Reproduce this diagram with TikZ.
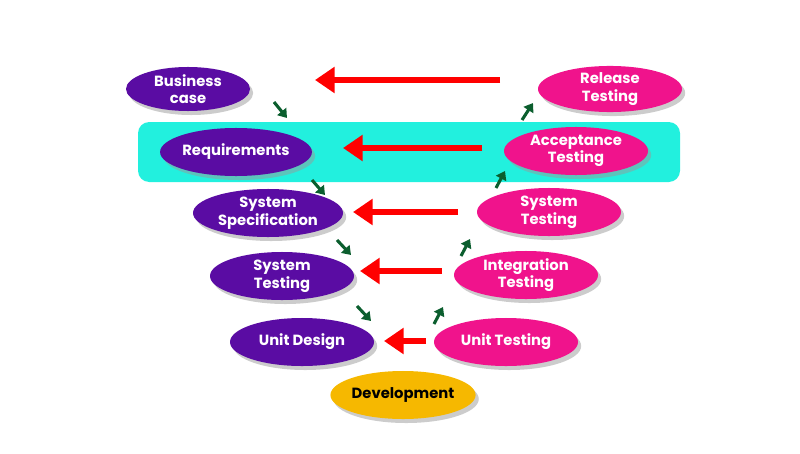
\documentclass[tikz,border=0pt]{standalone}
\usepackage{fontspec}
\setmainfont{Poppins}
\usetikzlibrary{shapes.geometric,arrows.meta,shadows}
\definecolor{pur}{HTML}{5A0CA3}
\definecolor{mag}{HTML}{F0138C}
\definecolor{cyn}{HTML}{22F0DE}
\definecolor{yel}{HTML}{F6B800}
\definecolor{grn}{HTML}{0B5E2E}
\tikzset{
 el/.style={ellipse,minimum width=#1*0.025cm,minimum height=1.2cm,inner sep=0pt,align=center,
   font=\fontsize{10.5}{12.5}\selectfont\bfseries,text=white,
   drop shadow={shadow xshift=0.08cm,shadow yshift=-0.1cm,fill=black!40}},
 pu/.style={el=#1,fill=pur},
 ma/.style={el=#1,fill=mag},
 red/.style={draw=red,line width=4pt,-{Triangle[length=14pt,width=18pt]}},
 gr/.style={draw=grn,line width=2.2pt,-{Triangle[length=6pt,width=8pt]}}
}
\begin{document}
\begin{tikzpicture}[x=0.025cm,y=-0.025cm]
\useasboundingbox (0,0) rectangle (800,453);
\fill[cyn,rounded corners=8pt] (138,122) rectangle (680,182);
\node[pu=124,minimum height=1.1cm] (bc) at (188,89) {Business\\case};
\node[ma=144,minimum height=1.1cm] (rt) at (610,89) {Release\\Testing};
\node[pu=144] (rq) at (236,152) {Requirements};
\node[ma=144] (at) at (576,151) {Acceptance\\Testing};
\node[pu=150] (ss) at (268,213) {System\\Specification};
\node[ma=144] (st) at (549,212) {System\\Testing};
\node[pu=144] (sl) at (282,276) {System\\Testing};
\node[ma=144] (it) at (526,275) {Integration\\Testing};
\node[pu=144] (ud) at (302,342) {Unit Design};
\node[ma=144] (ut) at (506,342) {Unit Testing};
\node[el=144,fill=yel,text=black] (dv) at (403,395) {Development};
\coordinate (r1a) at (500,80); \coordinate (r1b) at (315,80);
\coordinate (r2a) at (482,148); \coordinate (r2b) at (343,148);
\coordinate (r3a) at (458,212); \coordinate (r3b) at (353,212);
\coordinate (r4a) at (442,271); \coordinate (r4b) at (360,271);
\coordinate (r5a) at (426,341); \coordinate (r5b) at (384,341);
\draw[red] (r1a)--(r1b); \draw[red] (r2a)--(r2b); \draw[red] (r3a)--(r3b);
\draw[red] (r4a)--(r4b); \draw[red] (r5a)--(r5b);
\foreach \a/\b/\c/\d in {274/102/287/118, 312/180/325/195, 337/240/351/255, 357/306/371/321,
  434/324/443/307, 461/256/470/239, 496/188/505/171, 522/120/533/103}
  \draw[gr] (\a,\b)--(\c,\d);
\end{tikzpicture}
\end{document}
